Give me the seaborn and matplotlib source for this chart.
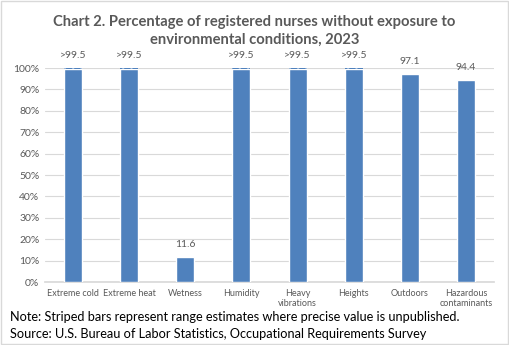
import matplotlib
matplotlib.use("Agg")
import matplotlib.pyplot as plt
import seaborn as sns
import pandas as pd
from matplotlib.patches import Rectangle

categories = ["Extreme cold", "Extreme heat", "Wetness", "Humidity",
              "Heavy\nvibrations", "Heights", "Outdoors", "Hazardous\ncontaminants"]
values = [99.5, 99.5, 11.6, 99.5, 99.5, 99.5, 97.1, 94.4]
labels = [">99.5", ">99.5", "11.6", ">99.5", ">99.5", ">99.5", "97.1", "94.4"]
is_range = [True, True, False, True, True, True, False, False]
yticks = [0, 10, 20, 30, 40, 50, 60, 70, 80, 90, 100]

sns.set_theme(style="white")
plt.rcParams["font.family"] = ["Lato", "DejaVu Sans"]

BAR = "#4F81BD"
GREY = "#595959"

df = pd.DataFrame({"cat": categories, "val": values})

fig = plt.figure(figsize=(5.09, 3.45), dpi=100)
ax = fig.add_axes([45 / 509, 1 - 282 / 345, 449 / 509, 214 / 345])

sns.barplot(data=df, x="cat", y="val", color=BAR, saturation=1, width=0.32, ax=ax, zorder=3)

# range-estimate bars: striped cap up to 100%
for i, (v, r) in enumerate(zip(values, is_range)):
    if r:
        ax.add_patch(Rectangle((i - 0.16, v), 0.32, 100 - v, facecolor=BAR,
                               edgecolor="#A7C0DE", hatch="////", linewidth=0, zorder=3))

for i, (v, r, t) in enumerate(zip(values, is_range, labels)):
    top = 100 if r else v
    ax.text(i, top + 3.8, t, ha="center", va="bottom", fontsize=7.5, color=GREY)

ax.set_ylim(0, 100)
ax.set_xlim(-0.5, len(categories) - 0.5)
ax.set_yticks(yticks)
ax.set_yticklabels([f"{t}%" for t in yticks], fontsize=7.5, color=GREY)
ax.tick_params(axis="x", labelsize=6.5, colors=GREY, length=0, pad=5)
ax.tick_params(axis="y", length=0, pad=4)
ax.yaxis.grid(True, color="#D9D9D9", linewidth=0.8, zorder=0)
ax.set_axisbelow(True)
for s in ax.spines.values():
    s.set_visible(False)
ax.spines["bottom"].set_visible(True)
ax.spines["bottom"].set_color("#D9D9D9")
ax.set_xlabel("")
ax.set_ylabel("")
for lab in ax.get_xticklabels():
    lab.set_linespacing(1.1)

fig.text(0.5, 1 - 31 / 345, "Chart 2. Percentage of registered nurses without exposure to\nenvironmental conditions, 2023",
         ha="center", va="center", fontsize=10.6, fontweight="bold", color=GREY, linespacing=1.3)
fig.text(10 / 509, 1 - 317 / 345, "Note: Striped bars represent range estimates where precise value is unpublished.",
         ha="left", va="center", fontsize=9.15, color="black")
fig.text(10 / 509, 1 - 334 / 345, "Source: U.S. Bureau of Labor Statistics, Occupational Requirements Survey",
         ha="left", va="center", fontsize=9.15, color="black")

fig.patches.append(Rectangle((0.001, 0.002), 0.997, 0.995, transform=fig.transFigure,
                             fill=False, edgecolor="#D9D9D9", linewidth=1))

fig.savefig("out.png", dpi=100)
